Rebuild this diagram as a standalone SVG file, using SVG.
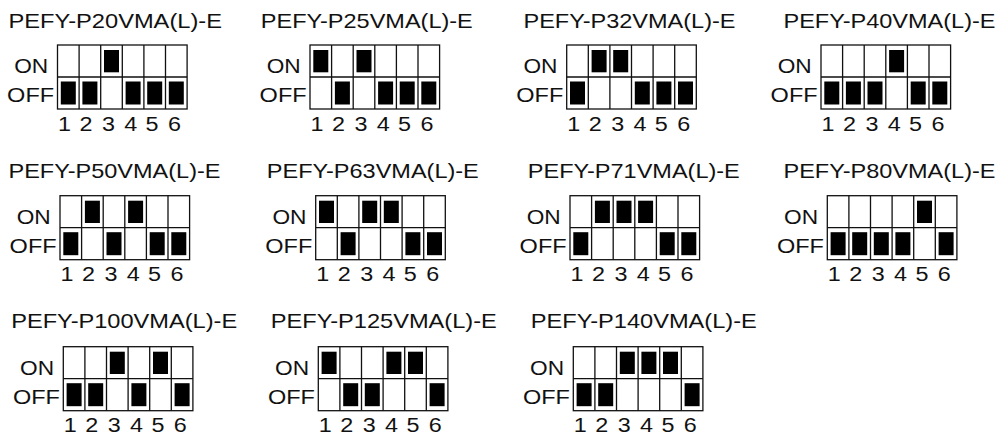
<svg xmlns="http://www.w3.org/2000/svg" xmlns:xlink="http://www.w3.org/1999/xlink" width="1000" height="440" viewBox="0 0 1000 440">
<style>
text{font-family:"Liberation Sans",Arial,Helvetica,sans-serif;fill:#111}
.t{font-size:21px}
.l{font-size:20px;text-anchor:end}
.d{font-size:19.5px;text-anchor:middle}
.fr{fill:#fff;stroke:#111;stroke-width:1.3}
.ln{stroke:#111;stroke-width:1.3}
.b{fill:#000}
</style>
<defs>
<g id="frame">
<rect class="fr" x="0" y="0" width="129.6" height="64"/>
<path class="ln" d="M0 32H129.6M21.6 0V64M43.2 0V64M64.8 0V64M86.4 0V64M108 0V64"/>
</g>
<g id="labels">
<text class="l" x="-9.3" y="27.9" textLength="34" lengthAdjust="spacingAndGlyphs">ON</text>
<text class="l" x="-3.4" y="57" textLength="47" lengthAdjust="spacingAndGlyphs">OFF</text>
<text class="d" x="7" y="85.8" textLength="13" lengthAdjust="spacingAndGlyphs">1</text>
<text class="d" x="28.5" y="85.8" textLength="13" lengthAdjust="spacingAndGlyphs">2</text>
<text class="d" x="51" y="85.8" textLength="13" lengthAdjust="spacingAndGlyphs">3</text>
<text class="d" x="73.3" y="85.8" textLength="13" lengthAdjust="spacingAndGlyphs">4</text>
<text class="d" x="94.6" y="85.8" textLength="13" lengthAdjust="spacingAndGlyphs">5</text>
<text class="d" x="117" y="85.8" textLength="13" lengthAdjust="spacingAndGlyphs">6</text>
</g>
<rect id="on" class="b" x="0" y="5" width="15" height="22.3"/>
<rect id="off" class="b" x="0" y="36.5" width="15" height="23"/>
</defs>

<g id="p20">
<text class="t" x="8.5" y="27.5" textLength="213.5" lengthAdjust="spacingAndGlyphs">PEFY-P20VMA(L)-E</text>
<g transform="translate(57.5,45)">
<use xlink:href="#frame"/><use xlink:href="#labels"/>
<use xlink:href="#on" x="46.5"/>
<use xlink:href="#off" x="3.3"/><use xlink:href="#off" x="24.9"/><use xlink:href="#off" x="68.1"/><use xlink:href="#off" x="89.7"/><use xlink:href="#off" x="111.3"/>
</g>
</g>

<g id="p25">
<text class="t" x="260.8" y="27.5" textLength="212" lengthAdjust="spacingAndGlyphs">PEFY-P25VMA(L)-E</text>
<g transform="translate(310,45)">
<use xlink:href="#frame"/><use xlink:href="#labels"/>
<use xlink:href="#on" x="3.3"/><use xlink:href="#on" x="46.5"/>
<use xlink:href="#off" x="24.9"/><use xlink:href="#off" x="68.1"/><use xlink:href="#off" x="89.7"/><use xlink:href="#off" x="111.3"/>
</g>
</g>

<g id="p32">
<text class="t" x="523.5" y="27.5" textLength="212" lengthAdjust="spacingAndGlyphs">PEFY-P32VMA(L)-E</text>
<g transform="translate(566.7,45)">
<use xlink:href="#frame"/><use xlink:href="#labels"/>
<use xlink:href="#on" x="24.9"/><use xlink:href="#on" x="46.5"/>
<use xlink:href="#off" x="3.3"/><use xlink:href="#off" x="68.1"/><use xlink:href="#off" x="89.7"/><use xlink:href="#off" x="111.3"/>
</g>
</g>

<g id="p40">
<text class="t" x="783.5" y="27.5" textLength="212" lengthAdjust="spacingAndGlyphs">PEFY-P40VMA(L)-E</text>
<g transform="translate(821,45)">
<use xlink:href="#frame"/><use xlink:href="#labels"/>
<use xlink:href="#on" x="68.1"/>
<use xlink:href="#off" x="3.3"/><use xlink:href="#off" x="24.9"/><use xlink:href="#off" x="46.5"/><use xlink:href="#off" x="89.7"/><use xlink:href="#off" x="111.3"/>
</g>
</g>

<g id="p50">
<text class="t" x="8.5" y="177.7" textLength="212" lengthAdjust="spacingAndGlyphs">PEFY-P50VMA(L)-E</text>
<g transform="translate(60,195.7)">
<use xlink:href="#frame"/><use xlink:href="#labels"/>
<use xlink:href="#on" x="24.9"/><use xlink:href="#on" x="68.1"/>
<use xlink:href="#off" x="3.3"/><use xlink:href="#off" x="46.5"/><use xlink:href="#off" x="89.7"/><use xlink:href="#off" x="111.3"/>
</g>
</g>

<g id="p63">
<text class="t" x="266.8" y="177.7" textLength="212" lengthAdjust="spacingAndGlyphs">PEFY-P63VMA(L)-E</text>
<g transform="translate(315.7,195.7)">
<use xlink:href="#frame"/><use xlink:href="#labels"/>
<use xlink:href="#on" x="3.3"/><use xlink:href="#on" x="46.5"/><use xlink:href="#on" x="68.1"/>
<use xlink:href="#off" x="24.9"/><use xlink:href="#off" x="89.7"/><use xlink:href="#off" x="111.3"/>
</g>
</g>

<g id="p71">
<text class="t" x="527.8" y="177.7" textLength="212" lengthAdjust="spacingAndGlyphs">PEFY-P71VMA(L)-E</text>
<g transform="translate(570,195.7)">
<use xlink:href="#frame"/><use xlink:href="#labels"/>
<use xlink:href="#on" x="24.9"/><use xlink:href="#on" x="46.5"/><use xlink:href="#on" x="68.1"/>
<use xlink:href="#off" x="3.3"/><use xlink:href="#off" x="89.7"/><use xlink:href="#off" x="111.3"/>
</g>
</g>

<g id="p80">
<text class="t" x="783.5" y="177.7" textLength="212" lengthAdjust="spacingAndGlyphs">PEFY-P80VMA(L)-E</text>
<g transform="translate(827.3,195.7)">
<use xlink:href="#frame"/><use xlink:href="#labels"/>
<use xlink:href="#on" x="89.7"/>
<use xlink:href="#off" x="3.3"/><use xlink:href="#off" x="24.9"/><use xlink:href="#off" x="46.5"/><use xlink:href="#off" x="68.1"/><use xlink:href="#off" x="111.3"/>
</g>
</g>

<g id="p100">
<text class="t" x="11.2" y="327.7" textLength="226" lengthAdjust="spacingAndGlyphs">PEFY-P100VMA(L)-E</text>
<g transform="translate(63.3,346.7)">
<use xlink:href="#frame"/><use xlink:href="#labels"/>
<use xlink:href="#on" x="46.5"/><use xlink:href="#on" x="89.7"/>
<use xlink:href="#off" x="3.3"/><use xlink:href="#off" x="24.9"/><use xlink:href="#off" x="68.1"/><use xlink:href="#off" x="111.3"/>
</g>
</g>

<g id="p125">
<text class="t" x="270.8" y="327.7" textLength="226" lengthAdjust="spacingAndGlyphs">PEFY-P125VMA(L)-E</text>
<g transform="translate(318.3,346.7)">
<use xlink:href="#frame"/><use xlink:href="#labels"/>
<use xlink:href="#on" x="3.3"/><use xlink:href="#on" x="68.1"/><use xlink:href="#on" x="89.7"/>
<use xlink:href="#off" x="24.9"/><use xlink:href="#off" x="46.5"/><use xlink:href="#off" x="111.3"/>
</g>
</g>

<g id="p140">
<text class="t" x="530.8" y="327.7" textLength="226" lengthAdjust="spacingAndGlyphs">PEFY-P140VMA(L)-E</text>
<g transform="translate(573.3,346.7)">
<use xlink:href="#frame"/><use xlink:href="#labels"/>
<use xlink:href="#on" x="46.5"/><use xlink:href="#on" x="68.1"/><use xlink:href="#on" x="89.7"/>
<use xlink:href="#off" x="3.3"/><use xlink:href="#off" x="24.9"/><use xlink:href="#off" x="111.3"/>
</g>
</g>
</svg>
